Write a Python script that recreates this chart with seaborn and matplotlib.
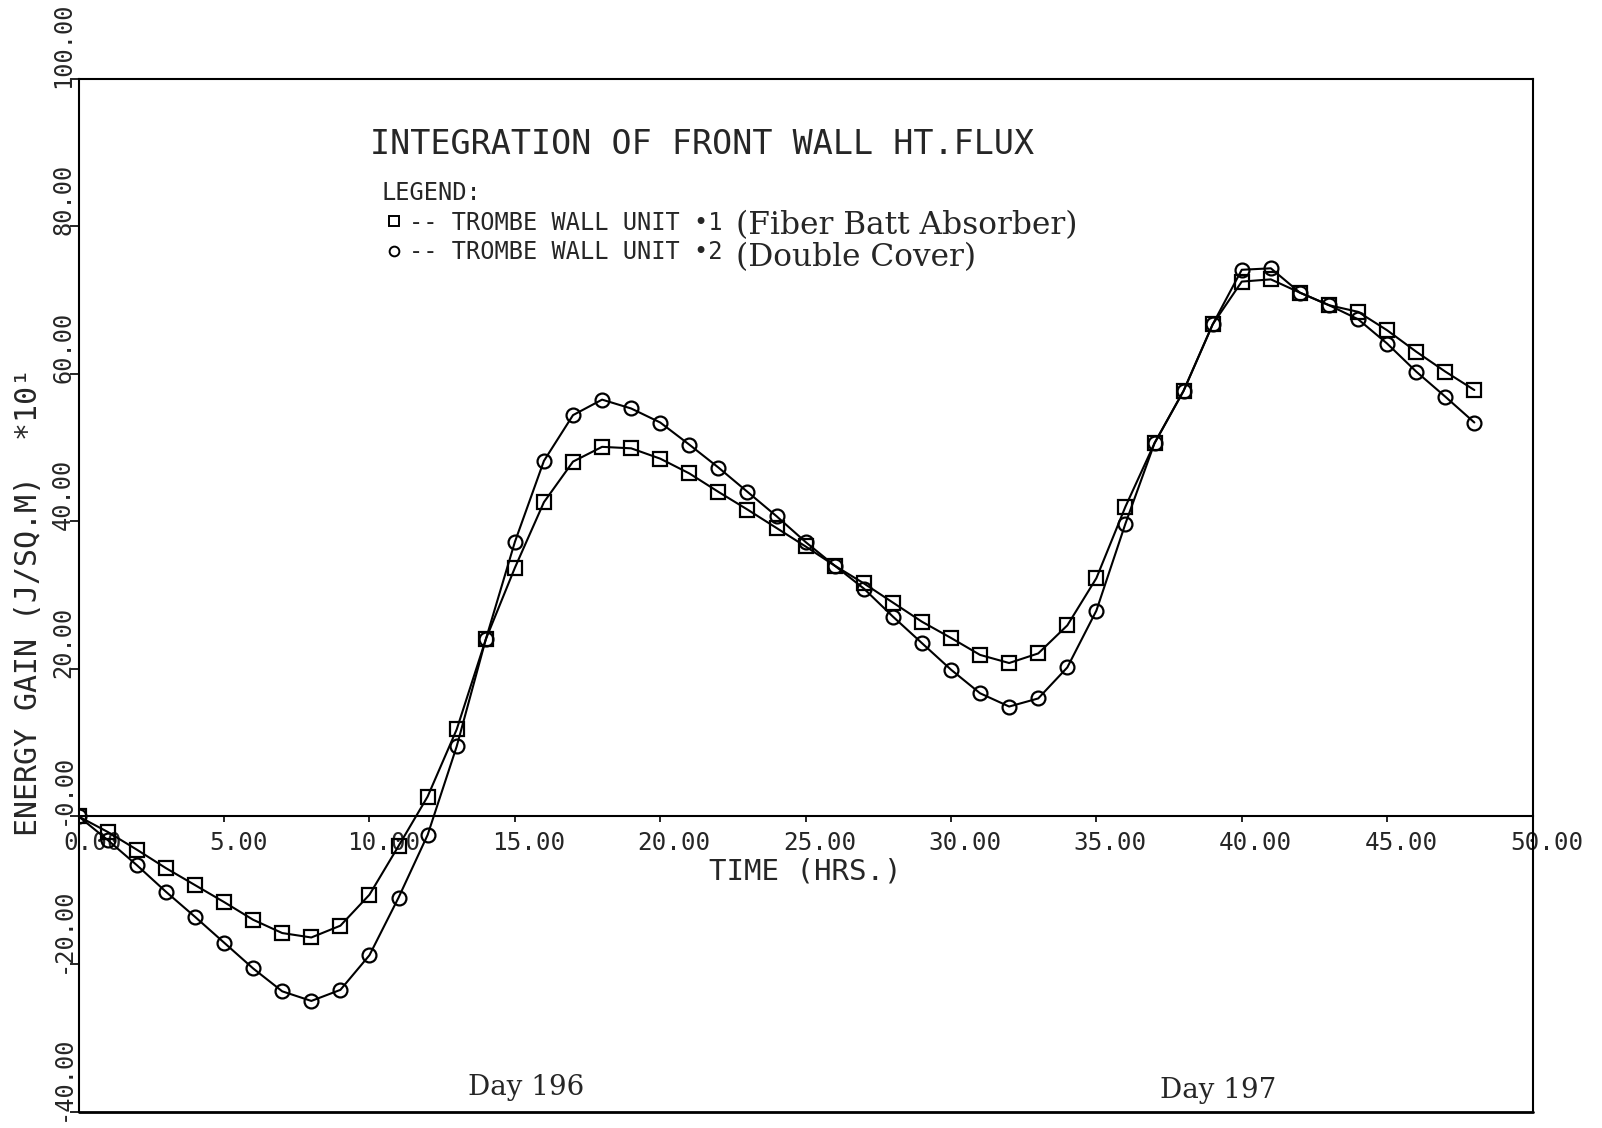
import numpy as np
import pandas as pd
import matplotlib
matplotlib.use("Agg")
import matplotlib.pyplot as plt
import matplotlib.transforms as mtransforms
from matplotlib.lines import Line2D
import seaborn as sns

# ---------------- data ----------------
hours = list(range(0, 49))
unit1_fiber_batt = [
    0.0, -2.1, -4.5, -7.0, -9.3, -11.6, -14.0, -15.8, -16.4, -14.8,
    -10.6, -4.0, 2.7, 11.8, 24.0, 33.7, 42.6, 48.1, 50.1, 49.9,
    48.5, 46.5, 44.0, 41.6, 39.1, 36.6, 34.0, 31.6, 29.0, 26.4,
    24.2, 21.9, 20.8, 22.1, 25.9, 32.3, 42.0, 50.6, 57.7, 66.7,
    72.5, 72.8, 71.0, 69.3, 68.4, 65.9, 63.0, 60.3, 57.8,
]
unit2_double_cover = [
    0.0, -3.2, -6.6, -10.2, -13.6, -17.1, -20.6, -23.7, -25.0, -23.5,
    -18.8, -11.0, -2.5, 9.5, 24.0, 37.2, 48.2, 54.4, 56.5, 55.3,
    53.4, 50.4, 47.3, 44.0, 40.7, 37.2, 34.0, 30.9, 27.1, 23.5,
    19.9, 16.7, 14.9, 16.0, 20.2, 27.9, 39.7, 50.6, 57.7, 66.7,
    74.1, 74.3, 71.0, 69.3, 67.4, 64.1, 60.3, 56.9, 53.4,
]
series_names = ["TROMBE WALL UNIT \u20221", "TROMBE WALL UNIT \u20222"]
series_notes = ["(Fiber Batt Absorber)", "(Double Cover)"]
x_ticks = [0, 5, 10, 15, 20, 25, 30, 35, 40, 45, 50]
x_tick_labels = ["0.00", "5.00", "10.00", "15.00", "20.00", "25.00",
                 "30.00", "35.00", "40.00", "45.00", "50.00"]
y_ticks = [-40, -20, 0, 20, 40, 60, 80, 100]
y_tick_labels = ["-40.00", "-20.00", "-0.00", "20.00", "40.00",
                 "60.00", "80.00", "100.00"]
day_labels = ["Day 196", "Day 197"]
title_text = "INTEGRATION OF FRONT WALL HT.FLUX"
x_label = "TIME (HRS.)"
y_label = "ENERGY GAIN (J/SQ.M)  *10\u00b9"

df = pd.DataFrame({
    "hour": hours + hours,
    "gain": unit1_fiber_batt + unit2_double_cover,
    "unit": [series_names[0]] * len(hours) + [series_names[1]] * len(hours),
})

# ---------------- style ----------------
sns.set_theme(style="white")
MONO = ["DejaVu Sans Mono", "DejaVu Sans"]
plt.rcParams["font.family"] = MONO
plt.rcParams["axes.linewidth"] = 1.4

W, H = 1602, 1128
fig = plt.figure(figsize=(W / 100, H / 100), dpi=100)
ax = fig.add_axes([0.04913, 0.01454, 0.9075, 0.9157])

sns.lineplot(data=df, x="hour", y="gain", style="unit",
             markers=["s", "o"], dashes=False, color="black",
             mfc="none", mec="black", mew=1.6, lw=1.5, ms=10,
             legend=False, errorbar=None, ax=ax)

ax.set_xlim(0, 50)
ax.set_ylim(-40, 100)

for s in ax.spines.values():
    s.set_color("black")
    s.set_linewidth(1.5)
ax.spines["bottom"].set_position(("data", 0))
ax.axhline(-40, color="black", lw=2.0, clip_on=False, zorder=5)

# x ticks on the zero line
ax.set_xticks(x_ticks, x_tick_labels)
ax.tick_params(axis="x", direction="out", length=4, width=1.2, pad=6.5,
               labelsize=17.5, bottom=True, color="black")
xoff = mtransforms.ScaledTranslation(0.14, 0, fig.dpi_scale_trans)
for lab in ax.get_xticklabels():
    lab.set_transform(lab.get_transform() + xoff)

# y ticks, rotated labels
ax.set_yticks(y_ticks, y_tick_labels)
ax.tick_params(axis="y", direction="out", length=6.5, width=1.2, pad=1.0,
               labelsize=17, left=True, color="black")
yoff = mtransforms.ScaledTranslation(0.07, -0.09, fig.dpi_scale_trans)
for lab in ax.get_yticklabels():
    lab.set_rotation(90)
    lab.set_verticalalignment("bottom")
    lab.set_horizontalalignment("right")
    lab.set_transform(lab.get_transform() + yoff)

ax.set_xlabel(x_label, fontsize=21, labelpad=2)
ax.set_ylabel(y_label, fontsize=21.5)
ax.yaxis.label.set(va="center", ha="center")
ax.yaxis.set_label_coords(-0.0345, 0.4934)

# title and day annotations
fig.text(370 / W, 1 - 145 / H, title_text, fontsize=24, ha="left", va="center")
ax.text(15.4, -36.8, day_labels[0], family="DejaVu Serif", fontsize=20,
        ha="center", va="center")
ax.text(39.2, -37.1, day_labels[1], family="DejaVu Serif", fontsize=20,
        ha="center", va="center")

# legend
handles = [
    Line2D([], [], marker="s", ls="none", mfc="none", mec="black", mew=1.4, ms=7),
    Line2D([], [], marker="o", ls="none", mfc="none", mec="black", mew=1.4, ms=7),
]
labels = ["-- " + n for n in series_names]
leg = ax.legend(handles, labels, title="LEGEND:", loc="upper left",
                bbox_to_anchor=(381 / W, 1 - 181 / H),
                bbox_transform=fig.transFigure, frameon=False,
                prop={"family": MONO, "size": 17},
                title_fontproperties={"family": MONO, "size": 17},
                alignment="left", handlelength=1.1, handletextpad=0.1,
                borderpad=0, borderaxespad=0, labelspacing=0.24)
fig.text(736 / W, 1 - 226 / H, series_notes[0], family="DejaVu Serif",
         fontsize=22.5, ha="left", va="center")
fig.text(736 / W, 1 - 258 / H, series_notes[1], family="DejaVu Serif",
         fontsize=22.5, ha="left", va="center")

fig.savefig("out.png", dpi=100, facecolor="white")
